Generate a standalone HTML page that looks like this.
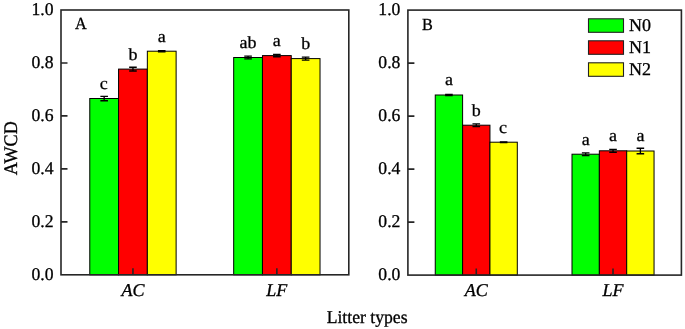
<!DOCTYPE html>
<html><head><meta charset="utf-8"><style>
html,body{margin:0;padding:0;background:#fff;}
svg{display:block;}
text{text-rendering:geometricPrecision;font-family:"Liberation Serif","Times New Roman",serif;font-size:18px;fill:#000;stroke:#000;stroke-width:0.3px;}
.it{font-style:italic;}
</style></head><body>
<svg width="685" height="329" viewBox="0 0 685 329">

<rect x="89.78" y="98.50" width="28.78" height="176.30" fill="#00ff00" stroke="#000" stroke-width="1"/>
<rect x="118.56" y="69.10" width="28.78" height="205.70" fill="#ff0000" stroke="#000" stroke-width="1"/>
<rect x="147.34" y="51.20" width="28.78" height="223.60" fill="#ffff00" stroke="#000" stroke-width="1"/>
<rect x="233.68" y="57.50" width="28.78" height="217.30" fill="#00ff00" stroke="#000" stroke-width="1"/>
<rect x="262.46" y="55.60" width="28.78" height="219.20" fill="#ff0000" stroke="#000" stroke-width="1"/>
<rect x="291.24" y="58.60" width="28.78" height="216.20" fill="#ffff00" stroke="#000" stroke-width="1"/>
<rect x="435.25" y="95.00" width="27.35" height="180.10" fill="#00ff00" stroke="#000" stroke-width="1"/>
<rect x="462.60" y="125.20" width="27.35" height="149.90" fill="#ff0000" stroke="#000" stroke-width="1"/>
<rect x="489.95" y="142.20" width="27.35" height="132.90" fill="#ffff00" stroke="#000" stroke-width="1"/>
<rect x="572.00" y="154.20" width="27.35" height="120.90" fill="#00ff00" stroke="#000" stroke-width="1"/>
<rect x="599.35" y="150.80" width="27.35" height="124.30" fill="#ff0000" stroke="#000" stroke-width="1"/>
<rect x="626.70" y="151.00" width="27.35" height="124.10" fill="#ffff00" stroke="#000" stroke-width="1"/>
<path d="M100.37 96.30H107.97M100.37 100.70H107.97M104.17 96.30V100.70" stroke="#000" stroke-width="1.35" fill="none"/>
<text text-anchor="middle" transform="translate(103.67 88.50) scale(1.0 0.95)">c</text>
<path d="M129.15 67.20H136.75M129.15 71.00H136.75M132.95 67.20V71.00" stroke="#000" stroke-width="1.35" fill="none"/>
<text text-anchor="middle" transform="translate(132.95 59.50) scale(1.0 0.95)">b</text>
<path d="M157.93 50.55H165.53M157.93 51.85H165.53M161.73 50.55V51.85" stroke="#000" stroke-width="1.35" fill="none"/>
<text text-anchor="middle" transform="translate(161.73 41.60) scale(1.0 0.95)">a</text>
<path d="M244.27 56.10H251.87M244.27 58.90H251.87M248.07 56.10V58.90" stroke="#000" stroke-width="1.35" fill="none"/>
<text text-anchor="middle" transform="translate(248.07 48.30) scale(1.0 0.95)">ab</text>
<path d="M273.05 54.50H280.65M273.05 56.70H280.65M276.85 54.50V56.70" stroke="#000" stroke-width="1.35" fill="none"/>
<text text-anchor="middle" transform="translate(276.85 46.10) scale(1.0 0.95)">a</text>
<path d="M301.83 57.05H309.43M301.83 60.15H309.43M305.63 57.05V60.15" stroke="#000" stroke-width="1.35" fill="none"/>
<text text-anchor="middle" transform="translate(305.63 49.20) scale(1.0 0.95)">b</text>
<path d="M445.12 94.50H452.73M445.12 95.50H452.73M448.93 94.50V95.50" stroke="#000" stroke-width="1.35" fill="none"/>
<text text-anchor="middle" transform="translate(448.93 85.00) scale(1.0 0.95)">a</text>
<path d="M472.47 123.80H480.07M472.47 126.60H480.07M476.27 123.80V126.60" stroke="#000" stroke-width="1.35" fill="none"/>
<text text-anchor="middle" transform="translate(476.27 115.70) scale(1.0 0.95)">b</text>
<path d="M499.82 141.90H507.43M499.82 142.50H507.43M503.62 141.90V142.50" stroke="#000" stroke-width="1.35" fill="none"/>
<text text-anchor="middle" transform="translate(503.12 132.70) scale(1.0 0.95)">c</text>
<path d="M581.88 152.80H589.47M581.88 155.60H589.47M585.67 152.80V155.60" stroke="#000" stroke-width="1.35" fill="none"/>
<text text-anchor="middle" transform="translate(585.67 144.50) scale(1.0 0.95)">a</text>
<path d="M609.23 149.40H616.83M609.23 152.20H616.83M613.03 149.40V152.20" stroke="#000" stroke-width="1.35" fill="none"/>
<text text-anchor="middle" transform="translate(613.03 141.40) scale(1.0 0.95)">a</text>
<path d="M636.58 148.25H644.17M636.58 153.75H644.17M640.38 148.25V153.75" stroke="#000" stroke-width="1.35" fill="none"/>
<text text-anchor="middle" transform="translate(640.38 141.40) scale(1.0 0.95)">a</text>
<rect x="61.00" y="10.00" width="287.80" height="264.80" fill="none" stroke="#262626" stroke-width="1.6"/>
<path d="M61.00 221.84H67.50M61.00 168.88H67.50M61.00 115.92H67.50M61.00 62.96H67.50M132.95 274.80V268.20M276.85 274.80V268.20" stroke="#262626" stroke-width="1.6" fill="none"/>
<text text-anchor="end" transform="translate(53.50 279.70) scale(0.98 1.0)">0.0</text>
<text text-anchor="end" transform="translate(53.50 226.74) scale(0.98 1.0)">0.2</text>
<text text-anchor="end" transform="translate(53.50 173.78) scale(0.98 1.0)">0.4</text>
<text text-anchor="end" transform="translate(53.50 120.82) scale(0.98 1.0)">0.6</text>
<text text-anchor="end" transform="translate(53.50 67.86) scale(0.98 1.0)">0.8</text>
<text text-anchor="end" transform="translate(53.50 14.90) scale(0.98 1.0)">1.0</text>
<text class="it" text-anchor="middle" transform="translate(132.95 295.60) scale(1.0 1.0)">AC</text>
<text class="it" text-anchor="middle" transform="translate(276.85 295.60) scale(1.0 1.0)">LF</text>
<rect x="407.90" y="10.10" width="273.50" height="265.00" fill="none" stroke="#262626" stroke-width="1.6"/>
<path d="M407.90 222.10H414.40M407.90 169.10H414.40M407.90 116.10H414.40M407.90 63.10H414.40M476.27 275.10V268.50M613.02 275.10V268.50" stroke="#262626" stroke-width="1.6" fill="none"/>
<text text-anchor="end" transform="translate(400.40 280.00) scale(0.98 1.0)">0.0</text>
<text text-anchor="end" transform="translate(400.40 227.00) scale(0.98 1.0)">0.2</text>
<text text-anchor="end" transform="translate(400.40 174.00) scale(0.98 1.0)">0.4</text>
<text text-anchor="end" transform="translate(400.40 121.00) scale(0.98 1.0)">0.6</text>
<text text-anchor="end" transform="translate(400.40 68.00) scale(0.98 1.0)">0.8</text>
<text text-anchor="end" transform="translate(400.40 15.00) scale(0.98 1.0)">1.0</text>
<text class="it" text-anchor="middle" transform="translate(476.27 295.60) scale(1.0 1.0)">AC</text>
<text class="it" text-anchor="middle" transform="translate(613.02 295.60) scale(1.0 1.0)">LF</text>
<text transform="translate(74.90 28.90) scale(0.9 0.94)">A</text>
<text transform="translate(422.10 29.70) scale(0.9 0.94)">B</text>
<rect x="588.5" y="18.80" width="35" height="13.5" fill="#00ff00" stroke="#222" stroke-width="1.1"/>
<text transform="translate(629.00 31.10) scale(1.0 1.0)">N0</text>
<rect x="588.5" y="40.80" width="35" height="13.5" fill="#ff0000" stroke="#222" stroke-width="1.1"/>
<text transform="translate(629.00 53.10) scale(1.0 1.0)">N1</text>
<rect x="588.5" y="62.80" width="35" height="13.5" fill="#ffff00" stroke="#222" stroke-width="1.1"/>
<text transform="translate(629.00 75.10) scale(1.0 1.0)">N2</text>
<text text-anchor="middle" transform="translate(367.10 322.80) scale(0.98 1.0)">Litter types</text>
<text transform="translate(17.3 148.2) rotate(-90) scale(1.008 1.07)" text-anchor="middle">AWCD</text>
</svg>
</body></html>
